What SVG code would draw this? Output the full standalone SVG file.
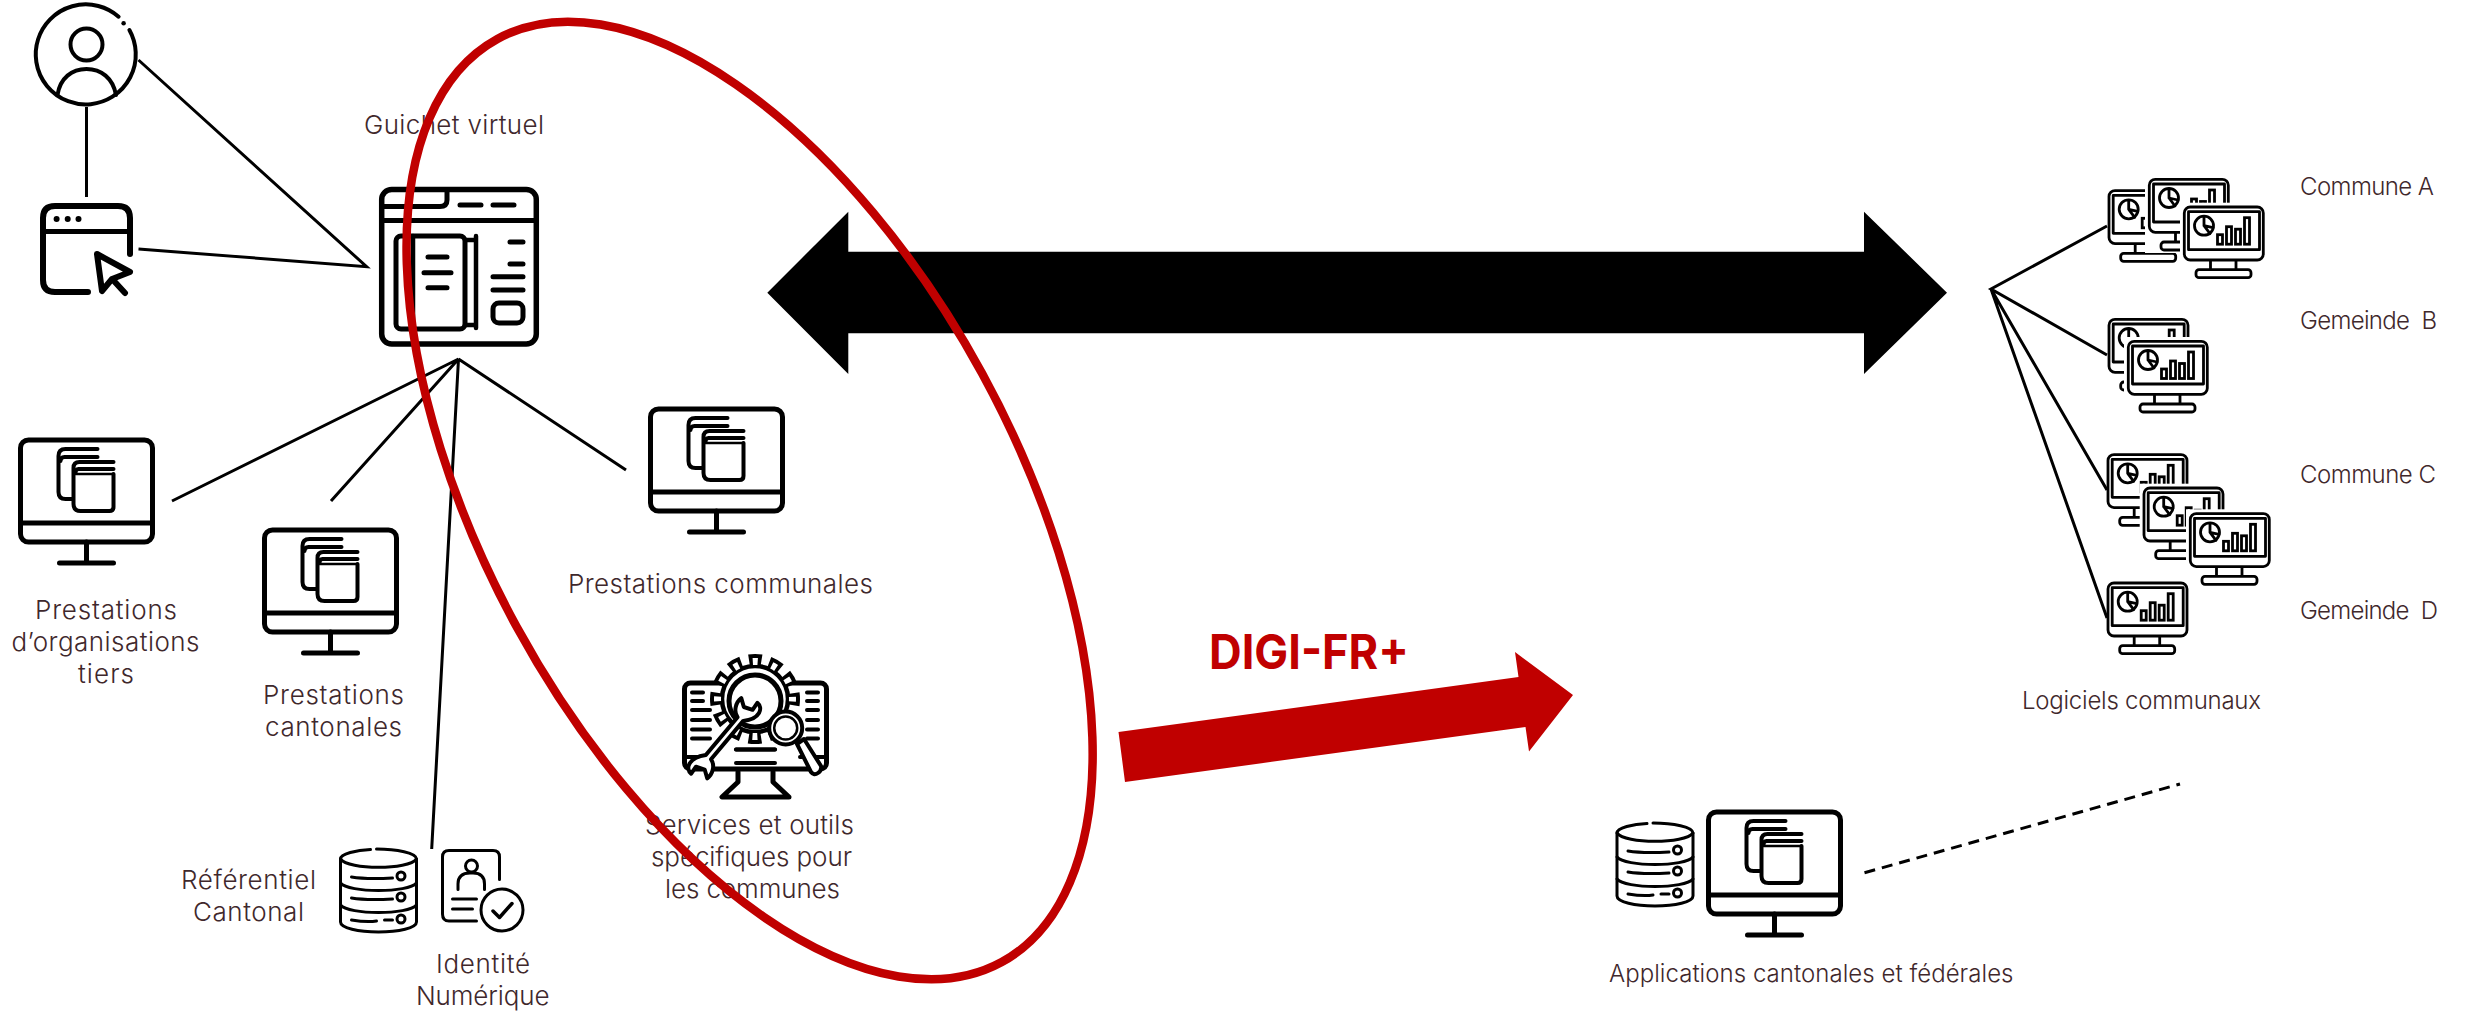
<svg xmlns="http://www.w3.org/2000/svg" width="2466" height="1014" viewBox="0 0 2466 1014">
<style>
text{font-family:Inter,"Liberation Sans",sans-serif;font-weight:350;fill:#3f282c;white-space:pre}
.t26{font-size:26px}.t24{font-size:24px}
.conn{stroke:#000;stroke-width:3;fill:none;stroke-linecap:butt}
.ic{fill:none;stroke:#000;stroke-linecap:round;stroke-linejoin:round}
.w{fill:#fff}
</style>
<defs>
<g id="monitor" class="ic" stroke-width="5">
<rect x="-66" y="0" width="132" height="102" rx="8"/>
<path d="M-66 83H66M0 102V123M-27 123H27"/>
<g stroke-width="4">
<path d="M11 9H-21Q-28 9-28 16V52Q-28 59-21 59H-14"/>
<path d="M11 17H-22Q-26 17-26 21"/>
<path d="M27 22H-7Q-13 22-13 28V64Q-13 71-6 71H23Q27 71 27 67V34"/>
<path d="M27 29H-8Q-11 29-11 33"/>
<path d="M-11 34H27" stroke-width="2.500"/>
</g>
</g>
<g id="database" class="ic" stroke-width="3">
<path d="M-38 0C-38-5-22-9-8-9.500M-2-10C18-10 38-6 38 0V63C38 69 20 73 0 73C-20 73-38 69-38 63V0"/>
<path d="M-38 0C-30 11 30 11 38 0M-38 24C-30 34 30 34 38 24M-38 46C-30 56 30 56 38 46"/>
<path d="M-27 18C-15 20-5 20 14 19M-27 39C-15 41-5 41 14 40M-27 61C-15 63-8 63-2 62M6 61H14"/>
<circle cx="22.500" cy="17" r="4"/><circle cx="22.500" cy="38" r="4"/><circle cx="22.500" cy="60" r="4"/>
</g>
<g id="pc">
<rect x="-3" y="-3" width="87" height="78" fill="#fff"/>
<g class="ic" stroke-width="2.800">
<rect class="w" x="1.300" y="1.300" width="79" height="53" rx="6"/>
<rect x="5.500" y="6" width="71" height="38"/>
<path d="M27.500 55V64M53 55V64"/>
<rect class="w" x="13" y="64" width="55" height="8" rx="3"/>
<circle cx="21" cy="20" r="9.500"/>
<path d="M21 11V20L30 22M21 20L27 28"/>
<rect x="34.500" y="29" width="5" height="9.500" stroke-linejoin="miter"/>
<rect x="43.500" y="21" width="5" height="17.500" stroke-linejoin="miter"/>
<rect x="52.500" y="23.500" width="5" height="15" stroke-linejoin="miter"/>
<rect x="61.500" y="12" width="5" height="26.500" stroke-linejoin="miter"/>
</g>
</g>
</defs>

<g id="user">
<g class="ic" stroke-width="4">
<path d="M118.600 16.700A50 50 0 1 0 129.400 30"/>
<path d="M123.600 23.300h.01" stroke-width="4.500"/>
<ellipse cx="86.500" cy="44.500" rx="16" ry="16"/>
<path d="M57.500 95C60 78 72 69 86.500 69C101 69 113 78 116 95"/>
</g>
</g>

<g id="web-access" class="ic" stroke-width="6">
<path d="M88 292H55Q43 292 43 280V218Q43 206 55 206H118Q130 206 130 218V254"/>
<path d="M43 231.500H130" stroke-width="5"/>
<path d="M56.600 219h.01M67.700 219h.01M78.500 219h.01"/>
<path d="M97 254L130 272L112 279L102 291ZM114 281L125 293" stroke-width="6"/>
</g>

<g id="guichet">
<g class="ic" stroke-width="5.500">
<rect x="381.700" y="189.500" width="154.600" height="154.500" rx="10"/>
<path d="M381.700 220.500H536.300" stroke-width="5"/>
<path d="M381.700 206.500H440Q447 206.500 447 200V191M460 205H481M493 205H514" stroke-width="5"/>
<rect x="396" y="236" width="69" height="93" rx="5" stroke-width="5"/>
<path d="M413 236V329M465 240H476V236M465 325H476V328M476 236V328" stroke-width="4.500"/>
<path d="M428 257H447M424 272.700H451M428 287.700H447" stroke-width="5"/>
<path d="M510 242H523M510 264H523M493 276.700H523M493 290H523" stroke-width="5"/>
<rect x="493" y="303" width="30" height="20" rx="6" stroke-width="5"/>
</g>
<text class="t26" x="364" y="134" textLength="180">Guichet virtuel</text>
</g>

<g id="prestations-tiers">
<use href="#monitor" x="86.500" y="440"/>
<text class="t26" x="35" y="619" textLength="142">Prestations</text>
<text class="t26" x="11.500" y="651" textLength="188">d’organisations</text>
<text class="t26" x="78" y="683" textLength="56">tiers</text>
</g>

<g id="prestations-cantonales">
<use href="#monitor" x="330.500" y="530"/>
<text class="t26" x="263" y="704" textLength="141">Prestations</text>
<text class="t26" x="265" y="736" textLength="137">cantonales</text>
</g>

<g id="prestations-communales">
<use href="#monitor" x="716.500" y="409"/>
<text class="t26" x="568" y="592.700" textLength="305">Prestations communales</text>
</g>

<g id="referentiel">
<use href="#database" x="378.500" y="859"/>
<text class="t26" x="181" y="889" textLength="135">Référentiel</text>
<text class="t26" x="193" y="921" textLength="111">Cantonal</text>
</g>

<g id="identite">
<g class="ic" stroke-width="3">
<path d="M476.500 921H449Q442.500 921 442.500 914V857Q442.500 850.500 449 850.500H493Q499.500 850.500 499.500 857V879.500"/>
<circle cx="471.500" cy="866" r="6"/>
<path d="M458 889.500V884Q458 873 470 873H473Q484.500 873 484.500 884V889.500"/>
<path d="M452.500 899H476.500M452.500 909H472.500"/>
<circle cx="502" cy="910" r="21"/>
<path d="M493 911L499.500 917.500L512 903.500" stroke-width="3.500"/>
</g>
<text class="t26" x="436" y="973" textLength="94">Identité</text>
<text class="t26" x="416" y="1005" textLength="133.500">Numérique</text>
</g>

<g id="services">
<g class="ic" stroke-width="5">
<rect x="684.500" y="683" width="142" height="86" rx="6"/>
<path d="M686 757H705M800 757H826M692 692.500H703M692 701H703M692 710H710M692 720H710M692 729.500H710M692 738.500H710M807 692.500H818M807 701H818M807 710H818M807 720H818M807 729.500H818M807 738.500H818M736 749.500H775M736 763H775" stroke-width="4"/>
<path d="M738 772V782L722 797H789L773 782V772" class="w"/>
</g>
<circle cx="755" cy="699" r="37.500" fill="none" stroke="#000" stroke-width="15" stroke-dasharray="12 7.630" stroke-dashoffset="6"/>
<circle cx="755" cy="699" r="33" fill="#fff" stroke="#000" stroke-width="4.500"/>
<circle cx="755" cy="699" r="37.500" fill="none" stroke="#fff" stroke-width="7" stroke-dasharray="5 14.630" stroke-dashoffset="2.500"/>
<circle cx="755" cy="701" r="26" fill="#fff" stroke="#000" stroke-width="5"/>
<path d="M736 749.500H775" class="ic" stroke-width="4"/>
<path class="ic w" stroke-width="4.700" transform="translate(727 735) rotate(-50) scale(.85)" d="M-34-4H24C26-12 36-17 44-15L38-6L42 4L52 3C52 12 40 18 25 4H-34C-36 12-46 17-54 15L-48 6L-52-4L-62-3C-62-12-50-18-34-4Z"/>
<path class="ic w" stroke-width="4" d="M797 744L804 739L821 766Q822 770 818 773Q814 776 811 772Z"/>
<circle cx="785.700" cy="728" r="16.500" fill="#fff" stroke="#000" stroke-width="4"/>
<circle cx="785.700" cy="728" r="11.500" fill="none" stroke="#000" stroke-width="2.500"/>
<text class="t26" x="645" y="834" textLength="209">Services et outils</text>
<text class="t26" x="651" y="866" textLength="201">spécifiques pour</text>
<text class="t26" x="665" y="898" textLength="175">les communes</text>
</g>

<g id="double-arrow">
<polygon points="767.300,292.700 848.300,211.700 848.300,251.700 1864,251.700 1864,211.700 1947,292.700 1864,374 1864,333.300 848.300,333.300 848.300,374" fill="#000"/>
</g>

<g id="digi-arrow">
<polygon points="1118.500,732 1518.500,677 1515,652 1573,695 1529,751.600 1525.500,727 1125,782" fill="#c00000"/>
<text x="1209" y="669" textLength="200" lengthAdjust="spacingAndGlyphs" style="font-size:48.500px;font-weight:700;fill:#c00000">DIGI-FR+</text>
</g>

<g id="commune-a">
<use href="#pc" x="2107.700" y="189.300"/>
<use href="#pc" x="2148" y="178"/>
<use href="#pc" x="2183" y="205.700"/>
<text class="t24" x="2300" y="195" textLength="134">Commune A</text>
</g>
<g id="gemeinde-b">
<use href="#pc" x="2107.700" y="318"/>
<use href="#pc" x="2127" y="340"/>
<text class="t24" x="2300" y="329" textLength="137">Gemeinde  B</text>
</g>
<g id="commune-c">
<use href="#pc" x="2106.700" y="453.300"/>
<use href="#pc" x="2142.700" y="486.700"/>
<use href="#pc" x="2189" y="512.300"/>
<text class="t24" x="2300" y="483" textLength="136">Commune C</text>
</g>
<g id="gemeinde-d">
<use href="#pc" x="2106.700" y="581.700"/>
<text class="t24" x="2300" y="619" textLength="138">Gemeinde  D</text>
</g>
<text class="t24" x="2022" y="709" textLength="239">Logiciels communaux</text>

<g id="applications">
<use href="#database" x="1655" y="833"/>
<use href="#monitor" x="1774.500" y="812"/>
<text class="t24" x="1609" y="982" textLength="404.500">Applications cantonales et fédérales</text>
</g>

<g id="connectors">
<path class="conn" d="M86.500 107V197M138.500 60L366.600 266.700L138.500 249"/>
<path class="conn" d="M172 501L458.500 359L331 501M458.500 359L431.700 849M458.500 359L626 470"/>
<path class="conn" d="M2107 226L1991 289L2107 355M1991 289L2107 490M1991 289L2107 618"/>
<path class="conn" d="M1864.500 872.700L2180 784" stroke-dasharray="11 7"/>
</g>

<g id="digi-scope">
<ellipse cx="749.600" cy="500.500" rx="265" ry="526" transform="rotate(-28.650 749.600 500.500)" fill="none" stroke="#c00000" stroke-width="8.500"/>
</g>
</svg>
